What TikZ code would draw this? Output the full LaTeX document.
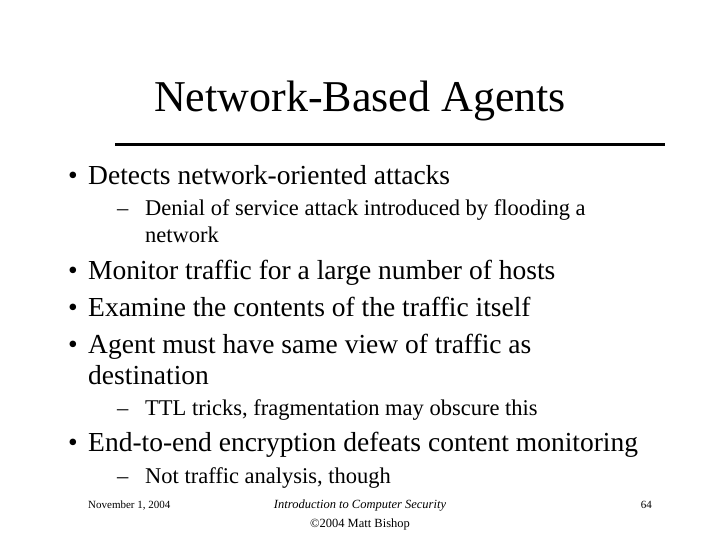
\documentclass[tikz,border=0pt]{standalone}
\usepackage{fontspec}
\setmainfont{Liberation Serif}
\begin{document}
\begin{tikzpicture}[x=1pt,y=-1pt,
  big/.style={anchor=base west,inner sep=0,font=\fontsize{27.5}{30}\selectfont},
  small/.style={anchor=base west,inner sep=0,font=\fontsize{22.5}{25}\selectfont},
  foot/.style={inner sep=0,anchor=base,font=\fontsize{11}{13}\selectfont}]
\useasboundingbox (0,0) rectangle (720,540);
\node[inner sep=0,anchor=base,font=\fontsize{44}{48}\selectfont] (title) at (360,112) {Network-Based Agents};
\coordinate (l1) at (115,145); \coordinate (l2) at (665,145);
\draw[line width=3pt] (l1) -- (l2);
\node[big] (b1d) at (68,185) {•}; \node[big] (b1) at (88,185) {Detects network-oriented attacks};
\node[small] (s1d) at (117,215) {–}; \node[small] (s1) at (145,215) {Denial of service attack introduced by flooding a};
\node[small] (s1b) at (145,242) {network};
\node[big] (b2d) at (68,279) {•}; \node[big] (b2) at (88,279) {Monitor traffic for a large number of hosts};
\node[big] (b3d) at (68,316) {•}; \node[big] (b3) at (88,316) {Examine the contents of the traffic itself};
\node[big] (b4d) at (68,353) {•}; \node[big] (b4) at (88,353) {Agent must have same view of traffic as};
\node[big] (b4b) at (88,384) {destination};
\node[small] (s2d) at (117,415) {–}; \node[small] (s2) at (145,415) {TTL tricks, fragmentation may obscure this};
\node[big] (b5d) at (68,451) {•}; \node[big] (b5) at (88,451) {End-to-end encryption defeats content monitoring};
\node[small] (s3d) at (117,483) {–}; \node[small] (s3) at (145,483) {Not traffic analysis, though};
\node[foot,anchor=base west] (f1) at (88,508) {November 1, 2004};
\node[foot,font=\fontsize{12.5}{14}\selectfont\itshape] (f2) at (360,508) {Introduction to Computer Security};
\node[foot,font=\fontsize{12.5}{14}\selectfont] (f3) at (360,527) {©2004 Matt Bishop};
\node[foot,anchor=base east] (f4) at (652,508) {64};
\end{tikzpicture}
\end{document}
